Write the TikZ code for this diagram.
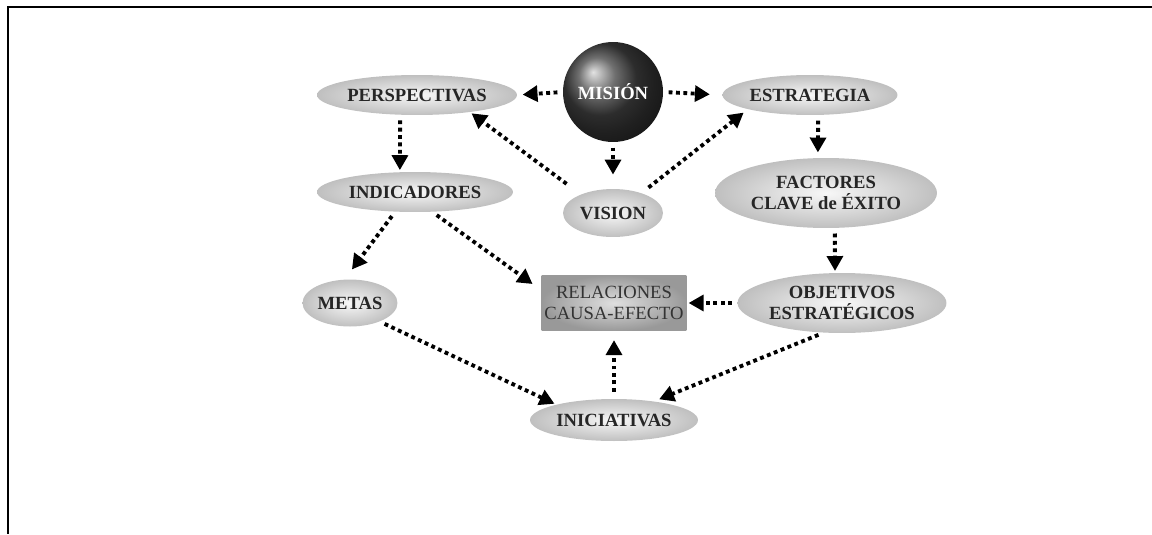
\documentclass[tikz,border=0pt]{standalone}
\usepackage{fontspec}
\setmainfont{Liberation Serif}
\usetikzlibrary{arrows.meta,shapes.geometric}

\begin{document}
\begin{tikzpicture}[x=0.02cm,y=-0.02cm,
  elipse/.style={ellipse, inner sep=0pt, inner color=gray!6, outer color=gray!50,
    text=black!85, align=center, font=\bfseries\fontsize{10.6}{12}\selectfont},
  flecha/.style={line width=2.2pt, dash pattern=on 2.2pt off 2pt,
    -{Triangle[length=8.5pt,width=9pt]}, shorten <=3pt, shorten >=3pt}]

\useasboundingbox (0,0) rectangle (1152,534);

% marco
\draw [line width=0.054cm] (7,7) -- (135,7);
\draw [line width=0.032cm] (135,7) -- (1090,7);
\draw [line width=0.054cm] (1090,7) -- (1152,7);
\draw [line width=0.04cm] (7.7,6) -- (7.7,534);

% nodos
\node [elipse, minimum width=4.0cm, minimum height=0.8cm] (persp) at (417,95) {PERSPECTIVAS};
\node [circle, minimum size=2.0cm, inner sep=0pt, shading=ball, ball color=gray!50!black,
  text=white, font=\bfseries\fontsize{10.6}{11}\selectfont] (mision) at (613,92) {MISIÓN};
\node [elipse, minimum width=3.5cm, minimum height=0.8cm] (estr) at (810,95) {ESTRATEGIA};
\node [elipse, minimum width=3.92cm, minimum height=0.8cm] (indic) at (415,192) {INDICADORES};
\node [elipse, minimum width=2.0cm, minimum height=0.96cm] (vision) at (613,213) {VISION};
\node [elipse, minimum width=4.44cm, minimum height=1.4cm] (factores) at (826,193) {FACTORES\\CLAVE de ÉXITO};
\node [elipse, minimum width=1.9cm, minimum height=0.94cm] (metas) at (350,303) {METAS};
\node [rectangle, minimum width=2.9cm, minimum height=1.12cm, inner sep=0pt,
  inner color=gray!25, outer color=gray!80, text=black!80, align=center,
  font=\fontsize{10.6}{12}\selectfont] (relac) at (614,303) {RELACIONES\\CAUSA-EFECTO};
\node [elipse, minimum width=4.18cm, minimum height=1.2cm] (obj) at (842,303) {OBJETIVOS\\ESTRATÉGICOS};
\node [elipse, minimum width=3.36cm, minimum height=0.84cm] (inic) at (614,420) {INICIATIVAS};

% flechas
\draw [flecha] (mision.west) -- (persp.east);
\draw [flecha, shorten >=7pt] (mision.east) -- (estr.west);
\draw [flecha, shorten >=8pt] (mision.south) -- (vision.north);
\draw [flecha, shorten <=10pt, shorten >=1pt] (vision.150) -- (persp.-18);
\draw [flecha, shorten <=5pt] (vision.35) -- (estr.-167);
\draw [flecha, shorten >=1pt] (persp.-130) -- (indic.127);
\draw [flecha] (estr.-68) -- (factores.103);
\draw [flecha, shorten >=1pt] (factores.-76) -- (obj.103);
\draw [flecha, shorten >=7pt] (indic.-135) -- (metas.103);
\draw [flecha, shorten >=6pt] (indic.-49) -- (relac.170);
\draw [flecha, shorten >=1pt] (obj.west) -- (relac.east);
\draw [flecha, shorten >=1pt] (metas.-32) -- (inic.165);
\draw [flecha, shorten <=4pt, shorten >=5pt] (inic.north) -- (relac.south);
\draw [flecha] (obj.-122) -- (inic.25);
\end{tikzpicture}
\end{document}
